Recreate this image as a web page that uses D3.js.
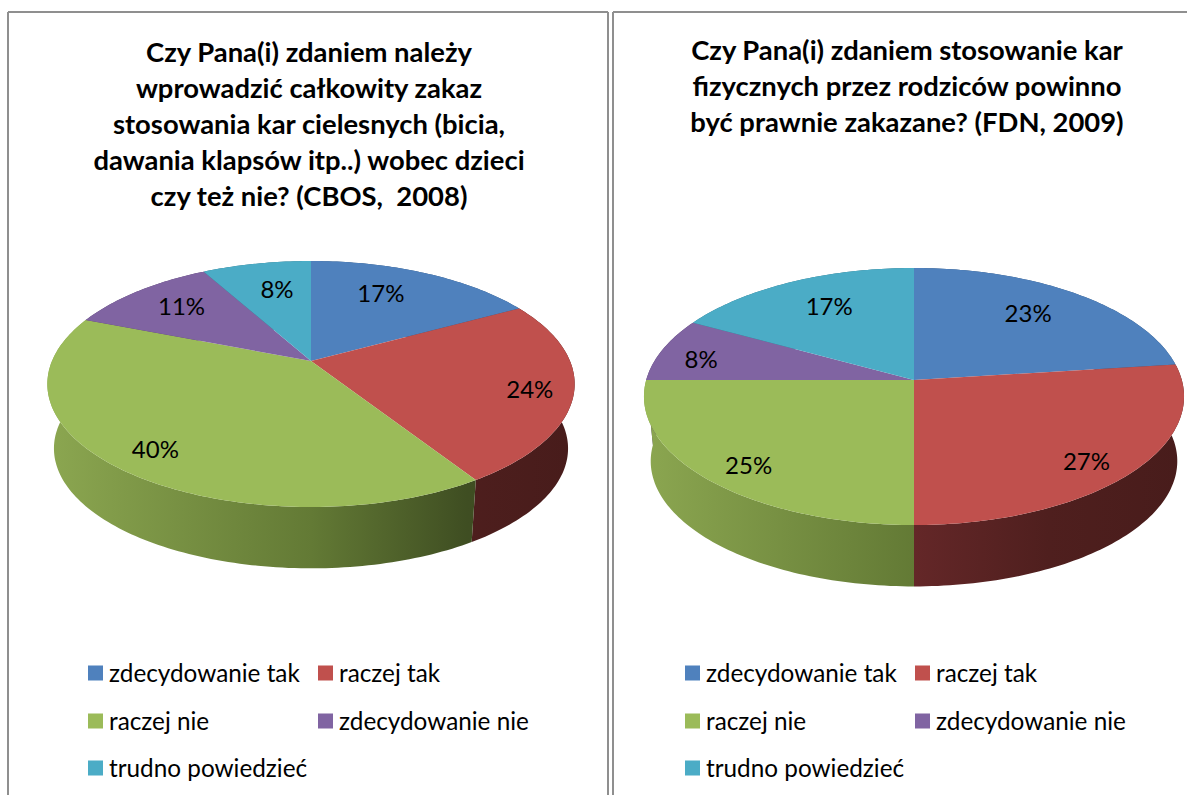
<!DOCTYPE html>
<html>
<head>
<meta charset="utf-8">
<script src="https://cdnjs.cloudflare.com/ajax/libs/d3/7.8.5/d3.min.js"></script>
<style>
html,body{margin:0;padding:0;background:#fff;overflow:hidden;}
svg{display:block;}
text{font-family:Lato,"Open Sans",sans-serif;fill:#000;}
</style>
</head>
<body>
<svg id="chart" width="1187" height="795"></svg>
<script>
//Data----------------------------------------------------------
var categories=["zdecydowanie tak","raczej tak","raczej nie","zdecydowanie nie","trudno powiedzieć"];
var colors=["#4f81bd","#c0504d","#9bbb59","#8064a2","#4bacc6"];

var titleLeft=["Czy Pana(i) zdaniem należy","wprowadzić całkowity zakaz","stosowania kar cielesnych (bicia,","dawania klapsów itp..) wobec dzieci","czy też nie? (CBOS,  2008)"];
var valuesLeft=[17,24,40,11,8];

var titleRight=["Czy Pana(i) zdaniem stosowanie kar","fizycznych przez rodziców powinno","być prawnie zakazane? (FDN, 2009)"];
var valuesRight=[23,27,25,8,17];

//how far out each label sits (share of radius) and its turn off the slice middle, degrees
var labelRadiusLeft=[0.71,0.84,0.84,0.74,0.70];
var labelTurnLeft=[-5.4,1.3,-0.7,1,2.2];
var labelRadiusRight=[0.73,0.84,0.84,0.83,0.72];
var labelTurnRight=[-2.6,3.5,-2.4,-2.6,2.2];

var svg=d3.select("#chart");

//Table borders---------------------------------------------------
function drawBorders(){
var lines=[[8,12,8,795],[608,12,608,795],[613,12,613,795],[8,12,608,12],[613,12,1187,12]];
svg.append("g").selectAll("line")
	.data(lines)
	.enter()
	.append("line")
	.attr("x1",function(d){return d[0];})
	.attr("y1",function(d){return d[1];})
	.attr("x2",function(d){return d[2];})
	.attr("y2",function(d){return d[3];})
	.style("stroke","#8f8f8f")
	.style("stroke-width",2);
}

//Wall shading, same light for each pie, runs left to right across it
function addGradients(defs,id,cx,rx){
var green=defs.append("linearGradient")
	.attr("id","green"+id)
	.attr("gradientUnits","userSpaceOnUse")
	.attr("x1",cx-rx).attr("x2",cx+rx).attr("y1",0).attr("y2",0);
green.append("stop").attr("offset","0").attr("stop-color","#8ba650");
green.append("stop").attr("offset","0.5").attr("stop-color","#637a35");
green.append("stop").attr("offset","0.8").attr("stop-color","#3f4e22");
green.append("stop").attr("offset","1").attr("stop-color","#3a481f");
var red=defs.append("linearGradient")
	.attr("id","red"+id)
	.attr("gradientUnits","userSpaceOnUse")
	.attr("x1",cx-rx).attr("x2",cx+rx).attr("y1",0).attr("y2",0);
red.append("stop").attr("offset","0").attr("stop-color","#8a3a38");
red.append("stop").attr("offset","0.5").attr("stop-color","#642728");
red.append("stop").attr("offset","0.75").attr("stop-color","#4f1f1e");
red.append("stop").attr("offset","1").attr("stop-color","#481c1b");
}

//Draws one tilted 3D pie-----------------------------------------
function drawPie(opt){
var defs=svg.append("defs");
addGradients(defs,opt.id,opt.cx,opt.rx);

//perspective of the tilted disc: near side is larger than far side
var project=function(angle,r,drop,shrink){
	var X=r*Math.sin(angle), Y=-r*Math.cos(angle);
	var d=1-opt.k*Y;
	return [opt.cx+shrink*opt.rx*X/d, opt.cy+drop+shrink*opt.ry*Y/d];
};

var pie=d3.pie().sort(null).value(function(d){return d;});
var slices=pie(opt.values);
var line=d3.line();

//samples along the rim between two angles
var rim=function(a0,a1,drop,shrink){
	var n=Math.max(2,Math.ceil(Math.abs(a1-a0)/0.02));
	return d3.range(n+1).map(function(i){
		return project(a0+(a1-a0)*i/n,1,drop,shrink);
	});
};

var g=svg.append("g");

//walls first and back to front, top faces go over their hidden back part
var backToFront=slices.slice().sort(function(a,b){
	return Math.cos((b.startAngle+b.endAngle)/2)-Math.cos((a.startAngle+a.endAngle)/2);
});
g.selectAll("path.wall")
	.data(backToFront)
	.enter()
	.append("path")
	.attr("class","wall")
	.attr("d",function(d){
		var top=rim(d.startAngle,d.endAngle,0,1);
		var bottom=rim(d.endAngle,d.startAngle,opt.depth,opt.shrink);
		return line(top.concat(bottom))+"Z";
	})
	.style("fill",function(d){
		if(d.index==1)return "url(#red"+opt.id+")";
		if(d.index==2)return "url(#green"+opt.id+")";
		return d3.color(colors[d.index]).darker(1.2);
	});

g.selectAll("path.face")
	.data(slices)
	.enter()
	.append("path")
	.attr("class","face")
	.attr("d",function(d){
		return line([[opt.cx,opt.cy]].concat(rim(d.startAngle,d.endAngle,0,1)))+"Z";
	})
	.style("fill",function(d){return colors[d.index];});

//data labels
g.selectAll("text")
	.data(slices)
	.enter()
	.append("text")
	.attr("transform",function(d){
		var mid=(d.startAngle+d.endAngle)/2+opt.labelTurn[d.index]*Math.PI/180;
		var p=project(mid,opt.labelRadius[d.index],0,1);
		return "translate("+p[0]+","+p[1]+")";
	})
	.attr("dy","0.36em")
	.attr("text-anchor","middle")
	.style("font-size","24px")
	.text(function(d){return d.value+"%";});

//title
svg.append("g").selectAll("text")
	.data(opt.title)
	.enter()
	.append("text")
	.attr("x",opt.titleX)
	.attr("y",function(d,i){return opt.titleY+i*36;})
	.attr("text-anchor","middle")
	.attr("xml:space","preserve")
	.style("white-space","pre")
	.style("font-size","27.4px")
	.style("font-weight","bold")
	.text(function(d){return d;});

//legend, wraps the same way in both cells
var columns=[opt.legendX,opt.legendX+230];
var rows=[673,721,768];
var cellsAt=[[0,0],[1,0],[0,1],[1,1],[0,2]];
var legend=svg.append("g").selectAll("g")
	.data(categories)
	.enter()
	.append("g")
	.attr("transform",function(d,i){
		return "translate("+columns[cellsAt[i][0]]+","+rows[cellsAt[i][1]]+")";
	});
legend.append("rect")
	.attr("x",0).attr("y",-7.5)
	.attr("width",15).attr("height",15)
	.style("fill",function(d,i){return colors[i];});
legend.append("text")
	.attr("x",21)
	.attr("dy","0.36em")
	.style("font-size","24.3px")
	.text(function(d){return d;});
}

drawBorders();

drawPie({id:"L",cx:311,cy:361,rx:259,ry:118.7,k:0.187,depth:65,shrink:0.975,
	values:valuesLeft,title:titleLeft,titleX:309,titleY:62,legendX:88,
	labelRadius:labelRadiusLeft,labelTurn:labelTurnLeft});

drawPie({id:"R",cx:914,cy:380,rx:267.8,ry:126.4,k:0.1285,depth:65,shrink:0.975,
	values:valuesRight,title:titleRight,titleX:907,titleY:60,legendX:685,
	labelRadius:labelRadiusRight,labelTurn:labelTurnRight});
</script>
</body>
</html>
